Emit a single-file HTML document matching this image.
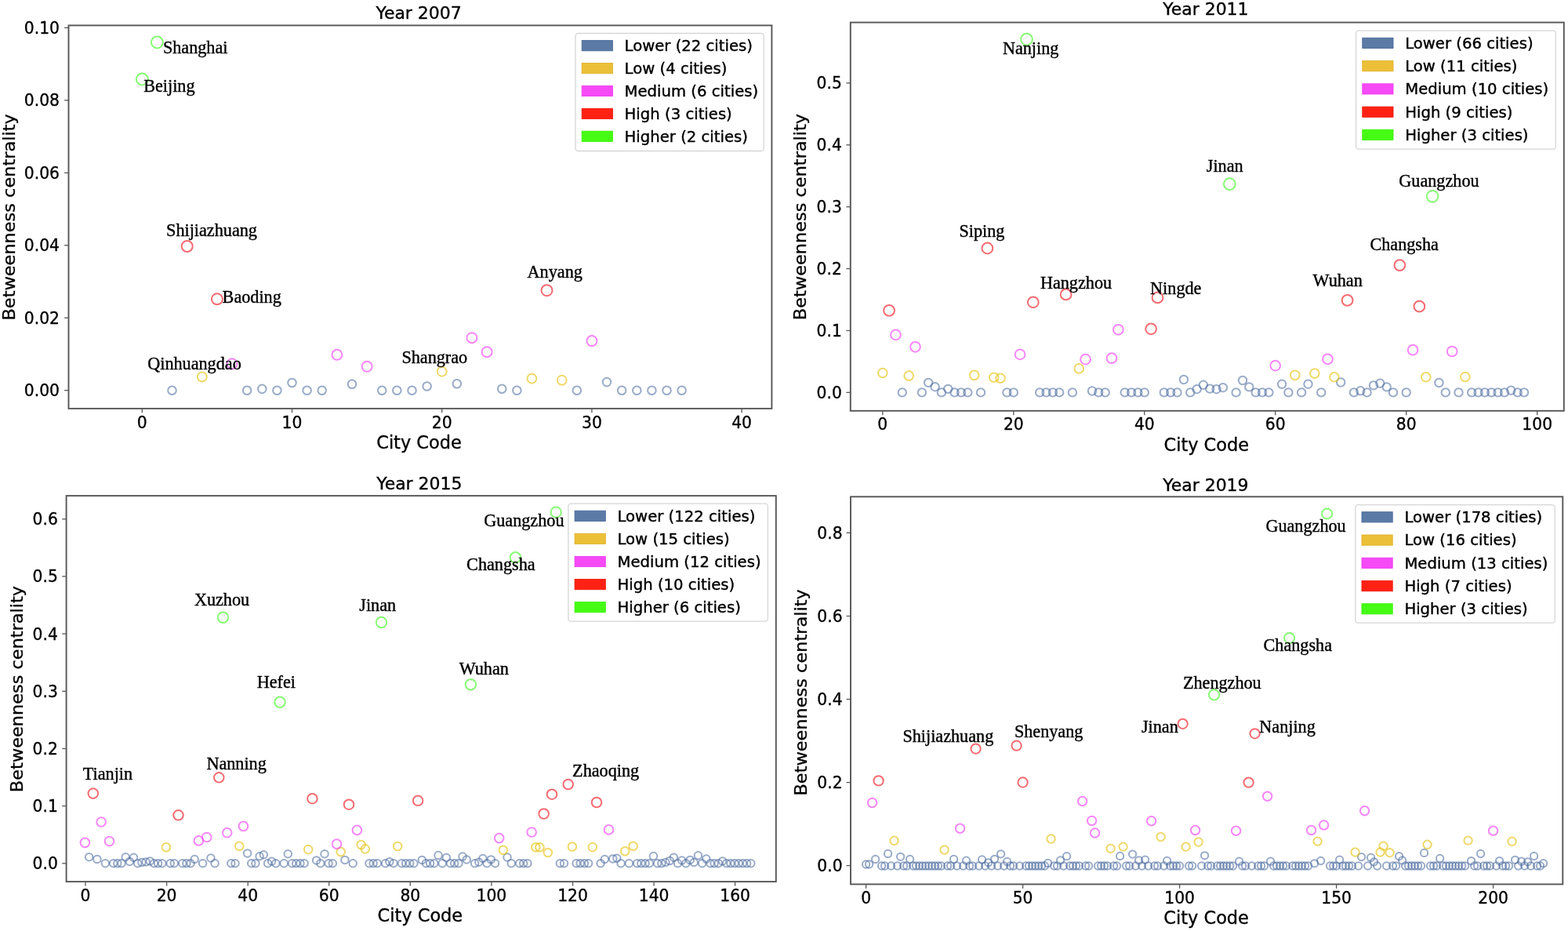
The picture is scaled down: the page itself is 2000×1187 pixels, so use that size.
<!DOCTYPE html>
<html><head><meta charset="utf-8"><title>Betweenness centrality by year</title>
<style>
html,body{margin:0;padding:0;background:#fff;overflow:hidden;}
svg{display:block;filter:blur(0.5px);}
.tk{font-family:'DejaVu Sans','Liberation Sans',sans-serif;font-size:20.3px;fill:#000;stroke:#000;stroke-width:0.35px;}
.lg{font-family:'DejaVu Sans','Liberation Sans',sans-serif;font-size:19.65px;fill:#000;stroke:#000;stroke-width:0.4px;}
.lb{font-family:'DejaVu Sans','Liberation Sans',sans-serif;font-size:22.45px;fill:#000;stroke:#000;stroke-width:0.35px;}
.an{font-family:'Liberation Serif','Times New Roman',serif;font-size:22.2px;fill:#000;stroke:#000;stroke-width:0.4px;}
</style></head>
<body>
<svg width="2000" height="1187" viewBox="0 0 2000 1187">
<rect width="2000" height="1187" fill="#fff"/>
<g fill="none" stroke="#506ea0" stroke-opacity="0.58" stroke-width="2.0"><circle cx="219.5" cy="497.8" r="5.30"/><circle cx="315.1" cy="497.8" r="5.30"/><circle cx="334.3" cy="495.9" r="5.30"/><circle cx="353.4" cy="497.8" r="5.30"/><circle cx="372.5" cy="488.0" r="5.30"/><circle cx="391.6" cy="497.8" r="5.30"/><circle cx="410.7" cy="497.8" r="5.30"/><circle cx="449.0" cy="489.8" r="5.30"/><circle cx="487.2" cy="497.8" r="5.30"/><circle cx="506.3" cy="497.8" r="5.30"/><circle cx="525.5" cy="497.8" r="5.30"/><circle cx="544.6" cy="492.5" r="5.30"/><circle cx="582.8" cy="489.2" r="5.30"/><circle cx="640.2" cy="495.8" r="5.30"/><circle cx="659.3" cy="497.8" r="5.30"/><circle cx="735.8" cy="497.8" r="5.30"/><circle cx="774.0" cy="487.1" r="5.30"/><circle cx="793.1" cy="497.8" r="5.30"/><circle cx="812.3" cy="497.8" r="5.30"/><circle cx="831.4" cy="497.8" r="5.30"/><circle cx="850.5" cy="497.8" r="5.30"/><circle cx="869.6" cy="497.8" r="5.30"/></g>
<g fill="none" stroke="#e6c314" stroke-opacity="0.64" stroke-width="2.0"><circle cx="257.8" cy="480.5" r="5.93"/><circle cx="563.7" cy="473.7" r="5.93"/><circle cx="678.4" cy="482.7" r="5.93"/><circle cx="716.7" cy="484.8" r="5.93"/></g>
<g fill="none" stroke="#f03cf5" stroke-opacity="0.62" stroke-width="2.0"><circle cx="296.0" cy="463.7" r="6.49"/><circle cx="429.9" cy="452.3" r="6.49"/><circle cx="468.1" cy="467.3" r="6.49"/><circle cx="601.9" cy="430.7" r="6.49"/><circle cx="621.1" cy="448.7" r="6.49"/><circle cx="754.9" cy="434.6" r="6.49"/></g>
<g fill="none" stroke="#f01e28" stroke-opacity="0.66" stroke-width="2.0"><circle cx="238.7" cy="314.0" r="7.01"/><circle cx="276.9" cy="381.3" r="7.01"/><circle cx="697.5" cy="370.2" r="7.01"/></g>
<g fill="none" stroke="#3cfa1e" stroke-opacity="0.62" stroke-width="2.0"><circle cx="181.3" cy="101.0" r="7.50"/><circle cx="200.4" cy="54.0" r="7.50"/></g>
<text x="207.9" y="68.3" class="an">Shanghai</text>
<text x="183.2" y="116.8" class="an">Beijing</text>
<text x="212.1" y="300.75" class="an">Shijiazhuang</text>
<text x="283.6" y="385.5" class="an">Baoding</text>
<text x="188.2" y="471.3" class="an">Qinhuangdao</text>
<text x="512.4" y="462.8" class="an">Shangrao</text>
<text x="672.6" y="354.15" class="an">Anyang</text>
<rect x="87.5" y="32.4" width="896.9" height="488.5" fill="none" stroke="#565656" stroke-width="1.9"/>
<line x1="181.3" y1="520.9" x2="181.3" y2="526.3" stroke="#565656" stroke-width="1.3"/>
<text transform="translate(181.3,545.8) scale(1,1.08)" class="tk" text-anchor="middle">0</text>
<line x1="372.5" y1="520.9" x2="372.5" y2="526.3" stroke="#565656" stroke-width="1.3"/>
<text transform="translate(372.5,545.8) scale(1,1.08)" class="tk" text-anchor="middle">10</text>
<line x1="563.7" y1="520.9" x2="563.7" y2="526.3" stroke="#565656" stroke-width="1.3"/>
<text transform="translate(563.7,545.8) scale(1,1.08)" class="tk" text-anchor="middle">20</text>
<line x1="754.9" y1="520.9" x2="754.9" y2="526.3" stroke="#565656" stroke-width="1.3"/>
<text transform="translate(754.9,545.8) scale(1,1.08)" class="tk" text-anchor="middle">30</text>
<line x1="946.1" y1="520.9" x2="946.1" y2="526.3" stroke="#565656" stroke-width="1.3"/>
<text transform="translate(946.1,545.8) scale(1,1.08)" class="tk" text-anchor="middle">40</text>
<line x1="82.1" y1="497.7" x2="87.5" y2="497.7" stroke="#565656" stroke-width="1.3"/>
<text transform="translate(76.0,505.2) scale(1,1.08)" class="tk" text-anchor="end">0.00</text>
<line x1="82.1" y1="405.2" x2="87.5" y2="405.2" stroke="#565656" stroke-width="1.3"/>
<text transform="translate(76.0,412.8) scale(1,1.08)" class="tk" text-anchor="end">0.02</text>
<line x1="82.1" y1="312.8" x2="87.5" y2="312.8" stroke="#565656" stroke-width="1.3"/>
<text transform="translate(76.0,320.3) scale(1,1.08)" class="tk" text-anchor="end">0.04</text>
<line x1="82.1" y1="220.4" x2="87.5" y2="220.4" stroke="#565656" stroke-width="1.3"/>
<text transform="translate(76.0,227.9) scale(1,1.08)" class="tk" text-anchor="end">0.06</text>
<line x1="82.1" y1="127.9" x2="87.5" y2="127.9" stroke="#565656" stroke-width="1.3"/>
<text transform="translate(76.0,135.4) scale(1,1.08)" class="tk" text-anchor="end">0.08</text>
<line x1="82.1" y1="35.4" x2="87.5" y2="35.4" stroke="#565656" stroke-width="1.3"/>
<text transform="translate(76.0,42.9) scale(1,1.08)" class="tk" text-anchor="end">0.10</text>
<text x="534.05" y="24.2" class="lb" style="font-size:21.95px" text-anchor="middle">Year 2007</text>
<text x="534.5" y="571.8" class="lb" text-anchor="middle">City Code</text>
<text transform="translate(19.2,276.9) rotate(-90) scale(1,0.93)" class="lb" text-anchor="middle">Betweenness centrality</text>
<rect x="734.0" y="42.5" width="240.2" height="150.0" rx="3.5" fill="#fff" fill-opacity="0.8" stroke="#d6d6d6" stroke-width="1.3"/>
<rect x="742.2" y="51.6" width="39.2" height="13.2" fill="#5b7ba6" stroke="#4a6a99" stroke-width="0.9"/>
<text x="796.6" y="65.0" class="lg">Lower (22 cities)</text>
<rect x="742.2" y="80.5" width="39.2" height="13.2" fill="#ebc038" stroke="#e0b02a" stroke-width="0.9"/>
<text x="796.6" y="93.9" class="lg">Low (4 cities)</text>
<rect x="742.2" y="109.4" width="39.2" height="13.2" fill="#f64af6" stroke="#ee3cee" stroke-width="0.9"/>
<text x="796.6" y="122.8" class="lg">Medium (6 cities)</text>
<rect x="742.2" y="138.3" width="39.2" height="13.2" fill="#ff2214" stroke="#f01a0c" stroke-width="0.9"/>
<text x="796.6" y="151.7" class="lg">High (3 cities)</text>
<rect x="742.2" y="167.2" width="39.2" height="13.2" fill="#46fc14" stroke="#3cf00c" stroke-width="0.9"/>
<text x="796.6" y="180.6" class="lg">Higher (2 cities)</text>
<g fill="none" stroke="#506ea0" stroke-opacity="0.58" stroke-width="2.0"><circle cx="1150.8" cy="500.4" r="5.20"/><circle cx="1175.9" cy="500.4" r="5.20"/><circle cx="1184.2" cy="487.9" r="5.20"/><circle cx="1192.6" cy="493.2" r="5.20"/><circle cx="1200.9" cy="500.4" r="5.20"/><circle cx="1209.3" cy="495.9" r="5.20"/><circle cx="1217.6" cy="500.4" r="5.20"/><circle cx="1226.0" cy="500.4" r="5.20"/><circle cx="1234.3" cy="500.4" r="5.20"/><circle cx="1251.0" cy="500.4" r="5.20"/><circle cx="1284.4" cy="500.4" r="5.20"/><circle cx="1292.8" cy="500.4" r="5.20"/><circle cx="1326.2" cy="500.4" r="5.20"/><circle cx="1334.5" cy="500.4" r="5.20"/><circle cx="1342.9" cy="500.4" r="5.20"/><circle cx="1351.2" cy="500.4" r="5.20"/><circle cx="1367.9" cy="500.4" r="5.20"/><circle cx="1393.0" cy="498.5" r="5.20"/><circle cx="1401.3" cy="500.4" r="5.20"/><circle cx="1409.7" cy="500.4" r="5.20"/><circle cx="1434.7" cy="500.4" r="5.20"/><circle cx="1443.1" cy="500.4" r="5.20"/><circle cx="1451.4" cy="500.4" r="5.20"/><circle cx="1459.8" cy="500.4" r="5.20"/><circle cx="1484.8" cy="500.4" r="5.20"/><circle cx="1493.2" cy="500.4" r="5.20"/><circle cx="1501.5" cy="500.4" r="5.20"/><circle cx="1509.9" cy="484.0" r="5.20"/><circle cx="1518.2" cy="500.4" r="5.20"/><circle cx="1526.6" cy="496.2" r="5.20"/><circle cx="1534.9" cy="490.8" r="5.20"/><circle cx="1543.2" cy="495.6" r="5.20"/><circle cx="1551.6" cy="496.2" r="5.20"/><circle cx="1559.9" cy="494.2" r="5.20"/><circle cx="1576.6" cy="500.4" r="5.20"/><circle cx="1585.0" cy="485.0" r="5.20"/><circle cx="1593.3" cy="493.4" r="5.20"/><circle cx="1601.7" cy="500.4" r="5.20"/><circle cx="1610.0" cy="500.4" r="5.20"/><circle cx="1618.4" cy="500.4" r="5.20"/><circle cx="1635.1" cy="489.8" r="5.20"/><circle cx="1643.4" cy="500.4" r="5.20"/><circle cx="1660.1" cy="500.4" r="5.20"/><circle cx="1668.5" cy="489.7" r="5.20"/><circle cx="1685.2" cy="500.4" r="5.20"/><circle cx="1710.2" cy="487.5" r="5.20"/><circle cx="1726.9" cy="500.4" r="5.20"/><circle cx="1735.3" cy="498.3" r="5.20"/><circle cx="1743.6" cy="500.4" r="5.20"/><circle cx="1752.0" cy="491.4" r="5.20"/><circle cx="1760.3" cy="488.7" r="5.20"/><circle cx="1768.7" cy="493.4" r="5.20"/><circle cx="1777.0" cy="500.4" r="5.20"/><circle cx="1793.7" cy="500.4" r="5.20"/><circle cx="1835.5" cy="488.0" r="5.20"/><circle cx="1843.8" cy="500.4" r="5.20"/><circle cx="1860.5" cy="500.4" r="5.20"/><circle cx="1877.2" cy="500.4" r="5.20"/><circle cx="1885.6" cy="500.4" r="5.20"/><circle cx="1893.9" cy="500.4" r="5.20"/><circle cx="1902.3" cy="500.4" r="5.20"/><circle cx="1910.6" cy="500.4" r="5.20"/><circle cx="1919.0" cy="500.4" r="5.20"/><circle cx="1927.3" cy="497.7" r="5.20"/><circle cx="1935.7" cy="500.4" r="5.20"/><circle cx="1944.0" cy="500.4" r="5.20"/></g>
<g fill="none" stroke="#e6c314" stroke-opacity="0.64" stroke-width="2.0"><circle cx="1125.8" cy="475.5" r="5.81"/><circle cx="1159.2" cy="479.1" r="5.81"/><circle cx="1242.7" cy="478.4" r="5.81"/><circle cx="1267.7" cy="481.2" r="5.81"/><circle cx="1276.1" cy="482.2" r="5.81"/><circle cx="1376.3" cy="469.9" r="5.81"/><circle cx="1651.8" cy="478.4" r="5.81"/><circle cx="1676.8" cy="476.1" r="5.81"/><circle cx="1701.9" cy="480.8" r="5.81"/><circle cx="1818.8" cy="480.8" r="5.81"/><circle cx="1868.9" cy="480.5" r="5.81"/></g>
<g fill="none" stroke="#f03cf5" stroke-opacity="0.62" stroke-width="2.0"><circle cx="1142.5" cy="426.9" r="6.37"/><circle cx="1167.5" cy="442.3" r="6.37"/><circle cx="1301.1" cy="451.9" r="6.37"/><circle cx="1384.6" cy="458.1" r="6.37"/><circle cx="1418.0" cy="456.7" r="6.37"/><circle cx="1426.4" cy="420.3" r="6.37"/><circle cx="1626.7" cy="466.1" r="6.37"/><circle cx="1693.5" cy="457.8" r="6.37"/><circle cx="1802.1" cy="446.2" r="6.37"/><circle cx="1852.2" cy="448.0" r="6.37"/></g>
<g fill="none" stroke="#f01e28" stroke-opacity="0.66" stroke-width="2.0"><circle cx="1134.1" cy="395.9" r="6.88"/><circle cx="1259.4" cy="316.5" r="6.88"/><circle cx="1317.8" cy="385.3" r="6.88"/><circle cx="1359.6" cy="375.4" r="6.88"/><circle cx="1468.1" cy="419.3" r="6.88"/><circle cx="1476.5" cy="379.4" r="6.88"/><circle cx="1718.6" cy="382.9" r="6.88"/><circle cx="1785.4" cy="338.1" r="6.88"/><circle cx="1810.4" cy="390.6" r="6.88"/></g>
<g fill="none" stroke="#3cfa1e" stroke-opacity="0.62" stroke-width="2.0"><circle cx="1309.5" cy="50.2" r="7.35"/><circle cx="1568.3" cy="234.6" r="7.35"/><circle cx="1827.1" cy="250.3" r="7.35"/></g>
<text x="1278.9" y="69.2" class="an">Nanjing</text>
<text x="1223.5" y="302.1" class="an">Siping</text>
<text x="1326.9" y="367.9" class="an">Hangzhou</text>
<text x="1467.1" y="375" class="an">Ningde</text>
<text x="1538.8" y="219.2" class="an">Jinan</text>
<text x="1784.3" y="238" class="an">Guangzhou</text>
<text x="1747.4" y="319.2" class="an">Changsha</text>
<text x="1674.6" y="364.5" class="an">Wuhan</text>
<rect x="1084.8" y="28.6" width="910.0" height="495.2" fill="none" stroke="#565656" stroke-width="1.9"/>
<line x1="1125.8" y1="523.8" x2="1125.8" y2="529.1999999999999" stroke="#565656" stroke-width="1.3"/>
<text transform="translate(1125.8,548.0) scale(1,1.08)" class="tk" text-anchor="middle">0</text>
<line x1="1292.8" y1="523.8" x2="1292.8" y2="529.1999999999999" stroke="#565656" stroke-width="1.3"/>
<text transform="translate(1292.8,548.0) scale(1,1.08)" class="tk" text-anchor="middle">20</text>
<line x1="1459.8" y1="523.8" x2="1459.8" y2="529.1999999999999" stroke="#565656" stroke-width="1.3"/>
<text transform="translate(1459.8,548.0) scale(1,1.08)" class="tk" text-anchor="middle">40</text>
<line x1="1626.7" y1="523.8" x2="1626.7" y2="529.1999999999999" stroke="#565656" stroke-width="1.3"/>
<text transform="translate(1626.7,548.0) scale(1,1.08)" class="tk" text-anchor="middle">60</text>
<line x1="1793.7" y1="523.8" x2="1793.7" y2="529.1999999999999" stroke="#565656" stroke-width="1.3"/>
<text transform="translate(1793.7,548.0) scale(1,1.08)" class="tk" text-anchor="middle">80</text>
<line x1="1960.7" y1="523.8" x2="1960.7" y2="529.1999999999999" stroke="#565656" stroke-width="1.3"/>
<text transform="translate(1960.7,548.0) scale(1,1.08)" class="tk" text-anchor="middle">100</text>
<line x1="1079.3999999999999" y1="500.4" x2="1084.8" y2="500.4" stroke="#565656" stroke-width="1.3"/>
<text transform="translate(1073.8,507.9) scale(1,1.08)" class="tk" text-anchor="end">0.0</text>
<line x1="1079.3999999999999" y1="421.5" x2="1084.8" y2="421.5" stroke="#565656" stroke-width="1.3"/>
<text transform="translate(1073.8,429.0) scale(1,1.08)" class="tk" text-anchor="end">0.1</text>
<line x1="1079.3999999999999" y1="342.6" x2="1084.8" y2="342.6" stroke="#565656" stroke-width="1.3"/>
<text transform="translate(1073.8,350.1) scale(1,1.08)" class="tk" text-anchor="end">0.2</text>
<line x1="1079.3999999999999" y1="263.7" x2="1084.8" y2="263.7" stroke="#565656" stroke-width="1.3"/>
<text transform="translate(1073.8,271.2) scale(1,1.08)" class="tk" text-anchor="end">0.3</text>
<line x1="1079.3999999999999" y1="184.8" x2="1084.8" y2="184.8" stroke="#565656" stroke-width="1.3"/>
<text transform="translate(1073.8,192.3) scale(1,1.08)" class="tk" text-anchor="end">0.4</text>
<line x1="1079.3999999999999" y1="105.9" x2="1084.8" y2="105.9" stroke="#565656" stroke-width="1.3"/>
<text transform="translate(1073.8,113.4) scale(1,1.08)" class="tk" text-anchor="end">0.5</text>
<text x="1537.9" y="19.4" class="lb" style="font-size:21.95px" text-anchor="middle">Year 2011</text>
<text x="1538.8" y="574.7" class="lb" text-anchor="middle">City Code</text>
<text transform="translate(1028.2,276.5) rotate(-90) scale(1,0.93)" class="lb" text-anchor="middle">Betweenness centrality</text>
<rect x="1729.6" y="39.2" width="254.7" height="151.0" rx="3.5" fill="#fff" fill-opacity="0.8" stroke="#d6d6d6" stroke-width="1.3"/>
<rect x="1737.8" y="48.3" width="39.2" height="13.2" fill="#5b7ba6" stroke="#4a6a99" stroke-width="0.9"/>
<text x="1792.2" y="61.7" class="lg">Lower (66 cities)</text>
<rect x="1737.8" y="77.6" width="39.2" height="13.2" fill="#ebc038" stroke="#e0b02a" stroke-width="0.9"/>
<text x="1792.2" y="91.0" class="lg">Low (11 cities)</text>
<rect x="1737.8" y="106.8" width="39.2" height="13.2" fill="#f64af6" stroke="#ee3cee" stroke-width="0.9"/>
<text x="1792.2" y="120.2" class="lg">Medium (10 cities)</text>
<rect x="1737.8" y="136.1" width="39.2" height="13.2" fill="#ff2214" stroke="#f01a0c" stroke-width="0.9"/>
<text x="1792.2" y="149.5" class="lg">High (9 cities)</text>
<rect x="1737.8" y="165.3" width="39.2" height="13.2" fill="#46fc14" stroke="#3cf00c" stroke-width="0.9"/>
<text x="1792.2" y="178.7" class="lg">Higher (3 cities)</text>
<g fill="none" stroke="#506ea0" stroke-opacity="0.58" stroke-width="2.0"><circle cx="113.6" cy="1092.8" r="4.75"/><circle cx="123.9" cy="1095.4" r="4.75"/><circle cx="134.3" cy="1100.8" r="4.75"/><circle cx="144.7" cy="1100.8" r="4.75"/><circle cx="149.8" cy="1100.8" r="4.75"/><circle cx="155.0" cy="1100.8" r="4.75"/><circle cx="160.2" cy="1092.8" r="4.75"/><circle cx="165.4" cy="1098.4" r="4.75"/><circle cx="170.5" cy="1093.3" r="4.75"/><circle cx="175.7" cy="1100.8" r="4.75"/><circle cx="180.9" cy="1099.5" r="4.75"/><circle cx="186.1" cy="1099.0" r="4.75"/><circle cx="191.3" cy="1098.0" r="4.75"/><circle cx="196.4" cy="1100.8" r="4.75"/><circle cx="201.6" cy="1100.8" r="4.75"/><circle cx="206.8" cy="1100.8" r="4.75"/><circle cx="217.2" cy="1100.8" r="4.75"/><circle cx="222.3" cy="1100.8" r="4.75"/><circle cx="232.7" cy="1100.8" r="4.75"/><circle cx="237.9" cy="1100.8" r="4.75"/><circle cx="243.1" cy="1100.8" r="4.75"/><circle cx="248.2" cy="1095.5" r="4.75"/><circle cx="258.6" cy="1100.8" r="4.75"/><circle cx="268.9" cy="1094.0" r="4.75"/><circle cx="274.1" cy="1100.8" r="4.75"/><circle cx="294.8" cy="1100.8" r="4.75"/><circle cx="300.0" cy="1100.8" r="4.75"/><circle cx="315.6" cy="1087.9" r="4.75"/><circle cx="320.7" cy="1100.8" r="4.75"/><circle cx="325.9" cy="1100.8" r="4.75"/><circle cx="331.1" cy="1091.7" r="4.75"/><circle cx="336.3" cy="1089.8" r="4.75"/><circle cx="341.5" cy="1100.8" r="4.75"/><circle cx="346.6" cy="1098.2" r="4.75"/><circle cx="351.8" cy="1100.8" r="4.75"/><circle cx="362.2" cy="1100.8" r="4.75"/><circle cx="367.3" cy="1088.7" r="4.75"/><circle cx="372.5" cy="1100.8" r="4.75"/><circle cx="377.7" cy="1100.8" r="4.75"/><circle cx="382.9" cy="1100.8" r="4.75"/><circle cx="388.1" cy="1100.8" r="4.75"/><circle cx="403.6" cy="1096.9" r="4.75"/><circle cx="408.8" cy="1100.8" r="4.75"/><circle cx="414.0" cy="1088.7" r="4.75"/><circle cx="419.1" cy="1100.8" r="4.75"/><circle cx="424.3" cy="1100.8" r="4.75"/><circle cx="439.9" cy="1096.4" r="4.75"/><circle cx="450.2" cy="1100.8" r="4.75"/><circle cx="470.9" cy="1100.8" r="4.75"/><circle cx="476.1" cy="1100.8" r="4.75"/><circle cx="481.3" cy="1100.8" r="4.75"/><circle cx="491.6" cy="1100.8" r="4.75"/><circle cx="496.8" cy="1098.8" r="4.75"/><circle cx="502.0" cy="1100.8" r="4.75"/><circle cx="512.4" cy="1100.8" r="4.75"/><circle cx="517.5" cy="1100.8" r="4.75"/><circle cx="522.7" cy="1100.8" r="4.75"/><circle cx="527.9" cy="1100.8" r="4.75"/><circle cx="538.3" cy="1096.4" r="4.75"/><circle cx="543.4" cy="1100.8" r="4.75"/><circle cx="548.6" cy="1100.8" r="4.75"/><circle cx="553.8" cy="1100.8" r="4.75"/><circle cx="559.0" cy="1090.6" r="4.75"/><circle cx="564.2" cy="1100.8" r="4.75"/><circle cx="569.3" cy="1093.5" r="4.75"/><circle cx="574.5" cy="1100.8" r="4.75"/><circle cx="579.7" cy="1100.8" r="4.75"/><circle cx="584.9" cy="1100.8" r="4.75"/><circle cx="590.0" cy="1092.1" r="4.75"/><circle cx="595.2" cy="1095.9" r="4.75"/><circle cx="605.6" cy="1100.8" r="4.75"/><circle cx="610.8" cy="1099.3" r="4.75"/><circle cx="615.9" cy="1094.5" r="4.75"/><circle cx="621.1" cy="1100.8" r="4.75"/><circle cx="626.3" cy="1095.9" r="4.75"/><circle cx="631.5" cy="1100.8" r="4.75"/><circle cx="647.0" cy="1093.0" r="4.75"/><circle cx="652.2" cy="1100.8" r="4.75"/><circle cx="662.6" cy="1100.8" r="4.75"/><circle cx="667.7" cy="1100.8" r="4.75"/><circle cx="672.9" cy="1100.8" r="4.75"/><circle cx="714.3" cy="1100.8" r="4.75"/><circle cx="719.5" cy="1100.8" r="4.75"/><circle cx="735.1" cy="1100.8" r="4.75"/><circle cx="740.2" cy="1100.8" r="4.75"/><circle cx="745.4" cy="1100.8" r="4.75"/><circle cx="750.6" cy="1100.8" r="4.75"/><circle cx="766.1" cy="1100.8" r="4.75"/><circle cx="771.3" cy="1095.5" r="4.75"/><circle cx="781.7" cy="1094.9" r="4.75"/><circle cx="786.8" cy="1094.3" r="4.75"/><circle cx="792.0" cy="1100.8" r="4.75"/><circle cx="802.4" cy="1100.8" r="4.75"/><circle cx="812.7" cy="1100.8" r="4.75"/><circle cx="817.9" cy="1100.8" r="4.75"/><circle cx="823.1" cy="1100.8" r="4.75"/><circle cx="828.3" cy="1100.8" r="4.75"/><circle cx="833.5" cy="1091.5" r="4.75"/><circle cx="838.6" cy="1100.8" r="4.75"/><circle cx="843.8" cy="1100.8" r="4.75"/><circle cx="849.0" cy="1099.5" r="4.75"/><circle cx="854.2" cy="1097.6" r="4.75"/><circle cx="859.4" cy="1093.3" r="4.75"/><circle cx="864.5" cy="1100.8" r="4.75"/><circle cx="869.7" cy="1097.0" r="4.75"/><circle cx="874.9" cy="1100.8" r="4.75"/><circle cx="880.1" cy="1096.4" r="4.75"/><circle cx="885.2" cy="1099.5" r="4.75"/><circle cx="890.4" cy="1090.8" r="4.75"/><circle cx="895.6" cy="1100.8" r="4.75"/><circle cx="900.8" cy="1095.1" r="4.75"/><circle cx="906.0" cy="1100.8" r="4.75"/><circle cx="911.1" cy="1100.8" r="4.75"/><circle cx="916.3" cy="1100.8" r="4.75"/><circle cx="921.5" cy="1098.0" r="4.75"/><circle cx="926.7" cy="1100.8" r="4.75"/><circle cx="931.9" cy="1100.8" r="4.75"/><circle cx="937.0" cy="1100.8" r="4.75"/><circle cx="942.2" cy="1100.8" r="4.75"/><circle cx="947.4" cy="1100.8" r="4.75"/><circle cx="952.6" cy="1100.8" r="4.75"/><circle cx="957.8" cy="1100.8" r="4.75"/></g>
<g fill="none" stroke="#e6c314" stroke-opacity="0.64" stroke-width="2.0"><circle cx="212.0" cy="1080.3" r="5.31"/><circle cx="305.2" cy="1078.7" r="5.31"/><circle cx="393.2" cy="1083.1" r="5.31"/><circle cx="434.7" cy="1086.0" r="5.31"/><circle cx="460.6" cy="1077.0" r="5.31"/><circle cx="465.8" cy="1082.4" r="5.31"/><circle cx="507.2" cy="1079.0" r="5.31"/><circle cx="641.8" cy="1083.8" r="5.31"/><circle cx="683.3" cy="1080.2" r="5.31"/><circle cx="688.4" cy="1080.2" r="5.31"/><circle cx="698.8" cy="1087.0" r="5.31"/><circle cx="729.9" cy="1079.5" r="5.31"/><circle cx="755.8" cy="1080.1" r="5.31"/><circle cx="797.2" cy="1085.2" r="5.31"/><circle cx="807.6" cy="1078.8" r="5.31"/></g>
<g fill="none" stroke="#f03cf5" stroke-opacity="0.62" stroke-width="2.0"><circle cx="108.4" cy="1074.4" r="5.82"/><circle cx="129.1" cy="1048.0" r="5.82"/><circle cx="139.5" cy="1072.5" r="5.82"/><circle cx="253.4" cy="1071.9" r="5.82"/><circle cx="263.8" cy="1067.5" r="5.82"/><circle cx="289.7" cy="1061.8" r="5.82"/><circle cx="310.4" cy="1053.4" r="5.82"/><circle cx="429.5" cy="1076.1" r="5.82"/><circle cx="455.4" cy="1058.4" r="5.82"/><circle cx="636.7" cy="1068.6" r="5.82"/><circle cx="678.1" cy="1061.0" r="5.82"/><circle cx="776.5" cy="1057.9" r="5.82"/></g>
<g fill="none" stroke="#f01e28" stroke-opacity="0.66" stroke-width="2.0"><circle cx="118.8" cy="1011.6" r="6.28"/><circle cx="227.5" cy="1039.3" r="6.28"/><circle cx="279.3" cy="991.3" r="6.28"/><circle cx="398.4" cy="1018.2" r="6.28"/><circle cx="445.0" cy="1025.7" r="6.28"/><circle cx="533.1" cy="1020.8" r="6.28"/><circle cx="693.6" cy="1037.5" r="6.28"/><circle cx="704.0" cy="1012.7" r="6.28"/><circle cx="724.7" cy="1000.0" r="6.28"/><circle cx="761.0" cy="1023.0" r="6.28"/></g>
<g fill="none" stroke="#3cfa1e" stroke-opacity="0.62" stroke-width="2.0"><circle cx="284.5" cy="787.3" r="6.72"/><circle cx="357.0" cy="895.3" r="6.72"/><circle cx="486.5" cy="793.5" r="6.72"/><circle cx="600.4" cy="872.8" r="6.72"/><circle cx="657.4" cy="710.8" r="6.72"/><circle cx="709.2" cy="653.1" r="6.72"/></g>
<text x="105.8" y="993.6" class="an">Tianjin</text>
<text x="247.9" y="771.8" class="an">Xuzhou</text>
<text x="327.7" y="877.1" class="an">Hefei</text>
<text x="263.4" y="981.1" class="an">Nanning</text>
<text x="458.3" y="779.4" class="an">Jinan</text>
<text x="585.7" y="860" class="an">Wuhan</text>
<text x="595.1" y="726.6" class="an">Changsha</text>
<text x="617.2" y="670.9" class="an">Guangzhou</text>
<text x="730.1" y="989.7" class="an">Zhaoqing</text>
<rect x="84.6" y="632.1" width="905.2" height="492.0" fill="none" stroke="#565656" stroke-width="1.9"/>
<line x1="109.0" y1="1124.1" x2="109.0" y2="1129.5" stroke="#565656" stroke-width="1.3"/>
<text transform="translate(109.0,1149.1) scale(1,1.08)" class="tk" text-anchor="middle">0</text>
<line x1="212.6" y1="1124.1" x2="212.6" y2="1129.5" stroke="#565656" stroke-width="1.3"/>
<text transform="translate(212.6,1149.1) scale(1,1.08)" class="tk" text-anchor="middle">20</text>
<line x1="316.2" y1="1124.1" x2="316.2" y2="1129.5" stroke="#565656" stroke-width="1.3"/>
<text transform="translate(316.2,1149.1) scale(1,1.08)" class="tk" text-anchor="middle">40</text>
<line x1="419.7" y1="1124.1" x2="419.7" y2="1129.5" stroke="#565656" stroke-width="1.3"/>
<text transform="translate(419.7,1149.1) scale(1,1.08)" class="tk" text-anchor="middle">60</text>
<line x1="523.3" y1="1124.1" x2="523.3" y2="1129.5" stroke="#565656" stroke-width="1.3"/>
<text transform="translate(523.3,1149.1) scale(1,1.08)" class="tk" text-anchor="middle">80</text>
<line x1="626.9" y1="1124.1" x2="626.9" y2="1129.5" stroke="#565656" stroke-width="1.3"/>
<text transform="translate(626.9,1149.1) scale(1,1.08)" class="tk" text-anchor="middle">100</text>
<line x1="730.5" y1="1124.1" x2="730.5" y2="1129.5" stroke="#565656" stroke-width="1.3"/>
<text transform="translate(730.5,1149.1) scale(1,1.08)" class="tk" text-anchor="middle">120</text>
<line x1="834.1" y1="1124.1" x2="834.1" y2="1129.5" stroke="#565656" stroke-width="1.3"/>
<text transform="translate(834.1,1149.1) scale(1,1.08)" class="tk" text-anchor="middle">140</text>
<line x1="937.6" y1="1124.1" x2="937.6" y2="1129.5" stroke="#565656" stroke-width="1.3"/>
<text transform="translate(937.6,1149.1) scale(1,1.08)" class="tk" text-anchor="middle">160</text>
<line x1="79.19999999999999" y1="1100.8" x2="84.6" y2="1100.8" stroke="#565656" stroke-width="1.3"/>
<text transform="translate(73.8,1108.3) scale(1,1.08)" class="tk" text-anchor="end">0.0</text>
<line x1="79.19999999999999" y1="1027.6" x2="84.6" y2="1027.6" stroke="#565656" stroke-width="1.3"/>
<text transform="translate(73.8,1035.1) scale(1,1.08)" class="tk" text-anchor="end">0.1</text>
<line x1="79.19999999999999" y1="954.5" x2="84.6" y2="954.5" stroke="#565656" stroke-width="1.3"/>
<text transform="translate(73.8,962.0) scale(1,1.08)" class="tk" text-anchor="end">0.2</text>
<line x1="79.19999999999999" y1="881.3" x2="84.6" y2="881.3" stroke="#565656" stroke-width="1.3"/>
<text transform="translate(73.8,888.8) scale(1,1.08)" class="tk" text-anchor="end">0.3</text>
<line x1="79.19999999999999" y1="808.1" x2="84.6" y2="808.1" stroke="#565656" stroke-width="1.3"/>
<text transform="translate(73.8,815.6) scale(1,1.08)" class="tk" text-anchor="end">0.4</text>
<line x1="79.19999999999999" y1="734.9" x2="84.6" y2="734.9" stroke="#565656" stroke-width="1.3"/>
<text transform="translate(73.8,742.4) scale(1,1.08)" class="tk" text-anchor="end">0.5</text>
<line x1="79.19999999999999" y1="661.8" x2="84.6" y2="661.8" stroke="#565656" stroke-width="1.3"/>
<text transform="translate(73.8,669.3) scale(1,1.08)" class="tk" text-anchor="end">0.6</text>
<text x="534.8" y="624.2" class="lb" style="font-size:21.95px" text-anchor="middle">Year 2015</text>
<text x="535.9" y="1175.0" class="lb" text-anchor="middle">City Code</text>
<text transform="translate(28.5,878.5) rotate(-90) scale(1,0.93)" class="lb" text-anchor="middle">Betweenness centrality</text>
<rect x="724.9" y="642.1" width="254.5" height="150.0" rx="3.5" fill="#fff" fill-opacity="0.8" stroke="#d6d6d6" stroke-width="1.3"/>
<rect x="733.1" y="651.2" width="39.2" height="13.2" fill="#5b7ba6" stroke="#4a6a99" stroke-width="0.9"/>
<text x="787.5" y="664.6" class="lg">Lower (122 cities)</text>
<rect x="733.1" y="680.3" width="39.2" height="13.2" fill="#ebc038" stroke="#e0b02a" stroke-width="0.9"/>
<text x="787.5" y="693.7" class="lg">Low (15 cities)</text>
<rect x="733.1" y="709.4" width="39.2" height="13.2" fill="#f64af6" stroke="#ee3cee" stroke-width="0.9"/>
<text x="787.5" y="722.8" class="lg">Medium (12 cities)</text>
<rect x="733.1" y="738.5" width="39.2" height="13.2" fill="#ff2214" stroke="#f01a0c" stroke-width="0.9"/>
<text x="787.5" y="751.9" class="lg">High (10 cities)</text>
<rect x="733.1" y="767.6" width="39.2" height="13.2" fill="#46fc14" stroke="#3cf00c" stroke-width="0.9"/>
<text x="787.5" y="781.0" class="lg">Higher (6 cities)</text>
<g fill="none" stroke="#506ea0" stroke-opacity="0.58" stroke-width="2.0"><circle cx="1104.6" cy="1102.0" r="4.65"/><circle cx="1108.6" cy="1102.0" r="4.65"/><circle cx="1116.6" cy="1095.5" r="4.65"/><circle cx="1124.6" cy="1104.0" r="4.65"/><circle cx="1128.6" cy="1104.0" r="4.65"/><circle cx="1132.6" cy="1088.4" r="4.65"/><circle cx="1136.6" cy="1104.0" r="4.65"/><circle cx="1144.6" cy="1104.0" r="4.65"/><circle cx="1148.6" cy="1092.3" r="4.65"/><circle cx="1152.6" cy="1104.0" r="4.65"/><circle cx="1156.6" cy="1104.0" r="4.65"/><circle cx="1160.6" cy="1095.5" r="4.65"/><circle cx="1164.6" cy="1104.0" r="4.65"/><circle cx="1168.6" cy="1104.0" r="4.65"/><circle cx="1172.6" cy="1104.0" r="4.65"/><circle cx="1176.6" cy="1104.0" r="4.65"/><circle cx="1180.6" cy="1104.0" r="4.65"/><circle cx="1184.6" cy="1104.0" r="4.65"/><circle cx="1188.6" cy="1104.0" r="4.65"/><circle cx="1192.6" cy="1104.0" r="4.65"/><circle cx="1196.6" cy="1104.0" r="4.65"/><circle cx="1200.6" cy="1104.0" r="4.65"/><circle cx="1208.6" cy="1104.0" r="4.65"/><circle cx="1212.6" cy="1104.0" r="4.65"/><circle cx="1216.6" cy="1095.5" r="4.65"/><circle cx="1220.6" cy="1104.0" r="4.65"/><circle cx="1228.6" cy="1104.0" r="4.65"/><circle cx="1232.6" cy="1097.2" r="4.65"/><circle cx="1236.6" cy="1104.0" r="4.65"/><circle cx="1240.6" cy="1104.0" r="4.65"/><circle cx="1248.6" cy="1104.0" r="4.65"/><circle cx="1252.6" cy="1095.9" r="4.65"/><circle cx="1256.6" cy="1104.0" r="4.65"/><circle cx="1260.6" cy="1099.8" r="4.65"/><circle cx="1264.6" cy="1104.0" r="4.65"/><circle cx="1268.6" cy="1095.3" r="4.65"/><circle cx="1272.6" cy="1104.0" r="4.65"/><circle cx="1276.6" cy="1088.8" r="4.65"/><circle cx="1280.6" cy="1104.0" r="4.65"/><circle cx="1284.6" cy="1098.5" r="4.65"/><circle cx="1288.6" cy="1104.0" r="4.65"/><circle cx="1292.6" cy="1104.0" r="4.65"/><circle cx="1300.6" cy="1104.0" r="4.65"/><circle cx="1308.6" cy="1104.0" r="4.65"/><circle cx="1312.6" cy="1104.0" r="4.65"/><circle cx="1316.6" cy="1104.0" r="4.65"/><circle cx="1320.6" cy="1104.0" r="4.65"/><circle cx="1324.6" cy="1104.0" r="4.65"/><circle cx="1328.6" cy="1104.0" r="4.65"/><circle cx="1332.6" cy="1104.0" r="4.65"/><circle cx="1336.6" cy="1100.5" r="4.65"/><circle cx="1344.6" cy="1104.0" r="4.65"/><circle cx="1348.6" cy="1104.0" r="4.65"/><circle cx="1352.6" cy="1096.9" r="4.65"/><circle cx="1356.6" cy="1104.0" r="4.65"/><circle cx="1360.6" cy="1091.7" r="4.65"/><circle cx="1364.6" cy="1104.0" r="4.65"/><circle cx="1368.6" cy="1104.0" r="4.65"/><circle cx="1372.6" cy="1104.0" r="4.65"/><circle cx="1376.6" cy="1104.0" r="4.65"/><circle cx="1384.6" cy="1104.0" r="4.65"/><circle cx="1388.6" cy="1104.0" r="4.65"/><circle cx="1400.6" cy="1104.0" r="4.65"/><circle cx="1404.6" cy="1104.0" r="4.65"/><circle cx="1408.6" cy="1104.0" r="4.65"/><circle cx="1412.6" cy="1104.0" r="4.65"/><circle cx="1420.6" cy="1104.0" r="4.65"/><circle cx="1424.6" cy="1104.0" r="4.65"/><circle cx="1428.6" cy="1091.4" r="4.65"/><circle cx="1436.6" cy="1104.0" r="4.65"/><circle cx="1440.6" cy="1104.0" r="4.65"/><circle cx="1444.6" cy="1089.1" r="4.65"/><circle cx="1448.6" cy="1104.0" r="4.65"/><circle cx="1452.6" cy="1097.0" r="4.65"/><circle cx="1456.6" cy="1104.0" r="4.65"/><circle cx="1460.6" cy="1096.2" r="4.65"/><circle cx="1464.6" cy="1104.0" r="4.65"/><circle cx="1472.6" cy="1104.0" r="4.65"/><circle cx="1476.6" cy="1104.0" r="4.65"/><circle cx="1484.6" cy="1104.0" r="4.65"/><circle cx="1488.6" cy="1097.5" r="4.65"/><circle cx="1492.6" cy="1104.0" r="4.65"/><circle cx="1496.6" cy="1104.0" r="4.65"/><circle cx="1500.6" cy="1104.0" r="4.65"/><circle cx="1504.6" cy="1104.0" r="4.65"/><circle cx="1516.6" cy="1104.0" r="4.65"/><circle cx="1520.6" cy="1104.0" r="4.65"/><circle cx="1532.6" cy="1104.0" r="4.65"/><circle cx="1536.6" cy="1090.8" r="4.65"/><circle cx="1540.6" cy="1104.0" r="4.65"/><circle cx="1544.6" cy="1104.0" r="4.65"/><circle cx="1552.6" cy="1104.0" r="4.65"/><circle cx="1556.6" cy="1104.0" r="4.65"/><circle cx="1560.6" cy="1104.0" r="4.65"/><circle cx="1564.6" cy="1104.0" r="4.65"/><circle cx="1568.6" cy="1104.0" r="4.65"/><circle cx="1572.6" cy="1104.0" r="4.65"/><circle cx="1580.6" cy="1098.2" r="4.65"/><circle cx="1584.6" cy="1104.0" r="4.65"/><circle cx="1588.6" cy="1104.0" r="4.65"/><circle cx="1596.6" cy="1104.0" r="4.65"/><circle cx="1604.6" cy="1104.0" r="4.65"/><circle cx="1608.6" cy="1104.0" r="4.65"/><circle cx="1612.6" cy="1104.0" r="4.65"/><circle cx="1620.6" cy="1098.2" r="4.65"/><circle cx="1624.6" cy="1104.0" r="4.65"/><circle cx="1628.6" cy="1104.0" r="4.65"/><circle cx="1632.6" cy="1104.0" r="4.65"/><circle cx="1636.6" cy="1104.0" r="4.65"/><circle cx="1640.6" cy="1104.0" r="4.65"/><circle cx="1648.6" cy="1104.0" r="4.65"/><circle cx="1652.6" cy="1104.0" r="4.65"/><circle cx="1656.6" cy="1104.0" r="4.65"/><circle cx="1660.6" cy="1104.0" r="4.65"/><circle cx="1664.6" cy="1104.0" r="4.65"/><circle cx="1668.6" cy="1104.0" r="4.65"/><circle cx="1676.6" cy="1100.8" r="4.65"/><circle cx="1684.6" cy="1097.5" r="4.65"/><circle cx="1696.6" cy="1104.0" r="4.65"/><circle cx="1700.6" cy="1104.0" r="4.65"/><circle cx="1704.6" cy="1104.0" r="4.65"/><circle cx="1708.6" cy="1096.2" r="4.65"/><circle cx="1712.6" cy="1104.0" r="4.65"/><circle cx="1716.6" cy="1104.0" r="4.65"/><circle cx="1720.6" cy="1104.0" r="4.65"/><circle cx="1724.6" cy="1104.0" r="4.65"/><circle cx="1732.6" cy="1104.0" r="4.65"/><circle cx="1736.6" cy="1092.6" r="4.65"/><circle cx="1744.6" cy="1104.0" r="4.65"/><circle cx="1748.6" cy="1093.4" r="4.65"/><circle cx="1752.6" cy="1098.8" r="4.65"/><circle cx="1756.6" cy="1104.0" r="4.65"/><circle cx="1768.6" cy="1104.0" r="4.65"/><circle cx="1776.6" cy="1104.0" r="4.65"/><circle cx="1780.6" cy="1104.0" r="4.65"/><circle cx="1784.6" cy="1091.7" r="4.65"/><circle cx="1788.6" cy="1096.9" r="4.65"/><circle cx="1792.6" cy="1104.0" r="4.65"/><circle cx="1796.6" cy="1104.0" r="4.65"/><circle cx="1800.6" cy="1104.0" r="4.65"/><circle cx="1804.6" cy="1104.0" r="4.65"/><circle cx="1808.6" cy="1104.0" r="4.65"/><circle cx="1812.6" cy="1104.0" r="4.65"/><circle cx="1816.6" cy="1087.4" r="4.65"/><circle cx="1824.6" cy="1104.0" r="4.65"/><circle cx="1828.6" cy="1104.0" r="4.65"/><circle cx="1832.6" cy="1104.0" r="4.65"/><circle cx="1836.6" cy="1094.4" r="4.65"/><circle cx="1840.6" cy="1104.0" r="4.65"/><circle cx="1844.6" cy="1104.0" r="4.65"/><circle cx="1848.6" cy="1104.0" r="4.65"/><circle cx="1852.6" cy="1104.0" r="4.65"/><circle cx="1856.6" cy="1104.0" r="4.65"/><circle cx="1860.6" cy="1104.0" r="4.65"/><circle cx="1864.6" cy="1104.0" r="4.65"/><circle cx="1868.6" cy="1104.0" r="4.65"/><circle cx="1876.6" cy="1097.6" r="4.65"/><circle cx="1880.6" cy="1104.0" r="4.65"/><circle cx="1884.6" cy="1104.0" r="4.65"/><circle cx="1888.6" cy="1088.5" r="4.65"/><circle cx="1892.6" cy="1104.0" r="4.65"/><circle cx="1896.6" cy="1104.0" r="4.65"/><circle cx="1900.6" cy="1104.0" r="4.65"/><circle cx="1908.6" cy="1104.0" r="4.65"/><circle cx="1912.6" cy="1097.6" r="4.65"/><circle cx="1916.6" cy="1104.0" r="4.65"/><circle cx="1920.6" cy="1104.0" r="4.65"/><circle cx="1924.6" cy="1104.0" r="4.65"/><circle cx="1932.6" cy="1096.3" r="4.65"/><circle cx="1936.6" cy="1104.0" r="4.65"/><circle cx="1940.6" cy="1098.2" r="4.65"/><circle cx="1944.6" cy="1104.0" r="4.65"/><circle cx="1948.6" cy="1098.8" r="4.65"/><circle cx="1952.6" cy="1104.0" r="4.65"/><circle cx="1956.6" cy="1091.4" r="4.65"/><circle cx="1960.6" cy="1104.0" r="4.65"/><circle cx="1964.6" cy="1104.0" r="4.65"/><circle cx="1968.6" cy="1100.7" r="4.65"/></g>
<g fill="none" stroke="#e6c314" stroke-opacity="0.64" stroke-width="2.0"><circle cx="1140.6" cy="1071.8" r="5.20"/><circle cx="1204.6" cy="1083.5" r="5.20"/><circle cx="1340.6" cy="1069.5" r="5.20"/><circle cx="1416.6" cy="1081.9" r="5.20"/><circle cx="1432.6" cy="1079.6" r="5.20"/><circle cx="1480.6" cy="1067.0" r="5.20"/><circle cx="1512.6" cy="1079.6" r="5.20"/><circle cx="1528.6" cy="1073.5" r="5.20"/><circle cx="1680.6" cy="1072.6" r="5.20"/><circle cx="1728.6" cy="1086.5" r="5.20"/><circle cx="1760.6" cy="1086.5" r="5.20"/><circle cx="1764.6" cy="1078.7" r="5.20"/><circle cx="1772.6" cy="1087.1" r="5.20"/><circle cx="1820.6" cy="1076.8" r="5.20"/><circle cx="1872.6" cy="1071.6" r="5.20"/><circle cx="1928.6" cy="1072.8" r="5.20"/></g>
<g fill="none" stroke="#f03cf5" stroke-opacity="0.62" stroke-width="2.0"><circle cx="1112.6" cy="1023.5" r="5.70"/><circle cx="1224.6" cy="1056.3" r="5.70"/><circle cx="1380.6" cy="1021.5" r="5.70"/><circle cx="1392.6" cy="1046.4" r="5.70"/><circle cx="1396.6" cy="1062.0" r="5.70"/><circle cx="1468.6" cy="1046.8" r="5.70"/><circle cx="1524.6" cy="1058.5" r="5.70"/><circle cx="1576.6" cy="1059.2" r="5.70"/><circle cx="1616.6" cy="1015.3" r="5.70"/><circle cx="1672.6" cy="1058.5" r="5.70"/><circle cx="1688.6" cy="1052.0" r="5.70"/><circle cx="1740.6" cy="1033.8" r="5.70"/><circle cx="1904.6" cy="1059.2" r="5.70"/></g>
<g fill="none" stroke="#f01e28" stroke-opacity="0.66" stroke-width="2.0"><circle cx="1120.6" cy="995.4" r="6.15"/><circle cx="1244.6" cy="954.6" r="6.15"/><circle cx="1296.6" cy="950.7" r="6.15"/><circle cx="1304.6" cy="997.5" r="6.15"/><circle cx="1508.6" cy="922.8" r="6.15"/><circle cx="1592.6" cy="997.6" r="6.15"/><circle cx="1600.6" cy="935.3" r="6.15"/></g>
<g fill="none" stroke="#3cfa1e" stroke-opacity="0.62" stroke-width="2.0"><circle cx="1548.6" cy="885.8" r="6.58"/><circle cx="1644.6" cy="813.5" r="6.58"/><circle cx="1692.6" cy="655.0" r="6.58"/></g>
<text x="1151.4" y="945.5" class="an">Shijiazhuang</text>
<text x="1293.9" y="939.7" class="an">Shenyang</text>
<text x="1455.9" y="933.8" class="an">Jinan</text>
<text x="1508.9" y="878" class="an">Zhengzhou</text>
<text x="1606.3" y="933.8" class="an">Nanjing</text>
<text x="1611.5" y="829.9" class="an">Changsha</text>
<text x="1614.4" y="678.2" class="an">Guangzhou</text>
<rect x="1085.0" y="633.3" width="908.3" height="494.1" fill="none" stroke="#565656" stroke-width="1.9"/>
<line x1="1104.6" y1="1127.4" x2="1104.6" y2="1132.8000000000002" stroke="#565656" stroke-width="1.3"/>
<text transform="translate(1104.6,1151.7) scale(1,1.08)" class="tk" text-anchor="middle">0</text>
<line x1="1304.6" y1="1127.4" x2="1304.6" y2="1132.8000000000002" stroke="#565656" stroke-width="1.3"/>
<text transform="translate(1304.6,1151.7) scale(1,1.08)" class="tk" text-anchor="middle">50</text>
<line x1="1504.6" y1="1127.4" x2="1504.6" y2="1132.8000000000002" stroke="#565656" stroke-width="1.3"/>
<text transform="translate(1504.6,1151.7) scale(1,1.08)" class="tk" text-anchor="middle">100</text>
<line x1="1704.6" y1="1127.4" x2="1704.6" y2="1132.8000000000002" stroke="#565656" stroke-width="1.3"/>
<text transform="translate(1704.6,1151.7) scale(1,1.08)" class="tk" text-anchor="middle">150</text>
<line x1="1904.6" y1="1127.4" x2="1904.6" y2="1132.8000000000002" stroke="#565656" stroke-width="1.3"/>
<text transform="translate(1904.6,1151.7) scale(1,1.08)" class="tk" text-anchor="middle">200</text>
<line x1="1079.6" y1="1103.6" x2="1085.0" y2="1103.6" stroke="#565656" stroke-width="1.3"/>
<text transform="translate(1074.6,1111.1) scale(1,1.08)" class="tk" text-anchor="end">0.0</text>
<line x1="1079.6" y1="997.6" x2="1085.0" y2="997.6" stroke="#565656" stroke-width="1.3"/>
<text transform="translate(1074.6,1005.1) scale(1,1.08)" class="tk" text-anchor="end">0.2</text>
<line x1="1079.6" y1="891.5" x2="1085.0" y2="891.5" stroke="#565656" stroke-width="1.3"/>
<text transform="translate(1074.6,899.0) scale(1,1.08)" class="tk" text-anchor="end">0.4</text>
<line x1="1079.6" y1="785.5" x2="1085.0" y2="785.5" stroke="#565656" stroke-width="1.3"/>
<text transform="translate(1074.6,793.0) scale(1,1.08)" class="tk" text-anchor="end">0.6</text>
<line x1="1079.6" y1="679.4" x2="1085.0" y2="679.4" stroke="#565656" stroke-width="1.3"/>
<text transform="translate(1074.6,686.9) scale(1,1.08)" class="tk" text-anchor="end">0.8</text>
<text x="1537.9" y="625.6" class="lb" style="font-size:21.95px" text-anchor="middle">Year 2019</text>
<text x="1538.65" y="1178.3" class="lb" text-anchor="middle">City Code</text>
<text transform="translate(1028.5,882.9) rotate(-90) scale(1,0.93)" class="lb" text-anchor="middle">Betweenness centrality</text>
<rect x="1728.8" y="643.6" width="254.4" height="150.6" rx="3.5" fill="#fff" fill-opacity="0.8" stroke="#d6d6d6" stroke-width="1.3"/>
<rect x="1737.0" y="652.7" width="39.2" height="13.2" fill="#5b7ba6" stroke="#4a6a99" stroke-width="0.9"/>
<text x="1791.4" y="666.1" class="lg">Lower (178 cities)</text>
<rect x="1737.0" y="682.0" width="39.2" height="13.2" fill="#ebc038" stroke="#e0b02a" stroke-width="0.9"/>
<text x="1791.4" y="695.4" class="lg">Low (16 cities)</text>
<rect x="1737.0" y="711.2" width="39.2" height="13.2" fill="#f64af6" stroke="#ee3cee" stroke-width="0.9"/>
<text x="1791.4" y="724.6" class="lg">Medium (13 cities)</text>
<rect x="1737.0" y="740.5" width="39.2" height="13.2" fill="#ff2214" stroke="#f01a0c" stroke-width="0.9"/>
<text x="1791.4" y="753.9" class="lg">High (7 cities)</text>
<rect x="1737.0" y="769.7" width="39.2" height="13.2" fill="#46fc14" stroke="#3cf00c" stroke-width="0.9"/>
<text x="1791.4" y="783.1" class="lg">Higher (3 cities)</text>
</svg>
</body></html>
